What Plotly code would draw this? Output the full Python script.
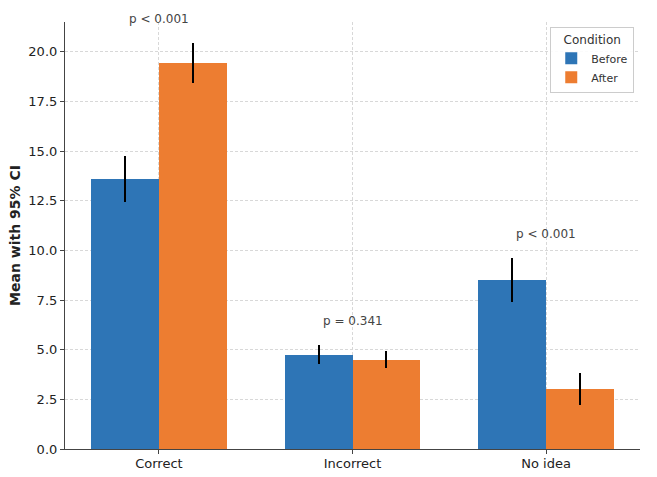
import plotly.graph_objects as go

categories = ["Correct", "Incorrect", "No idea"]
before_mean = [13.6, 4.75, 8.52]
before_ci = [1.17, 0.48, 1.1]
after_mean = [19.45, 4.5, 3.03]
after_ci = [1.0, 0.41, 0.8]
p_labels = ["p < 0.001", "p = 0.341", "p < 0.001"]

BLUE = "#2E75B6"
ORANGE = "#ED7D31"
FONT = "DejaVu Sans"
Y_MAX = 21.5

x_idx = list(range(len(categories)))
w = 0.35

fig = go.Figure()
fig.add_trace(go.Bar(
    x=[i - w / 2 for i in x_idx], y=before_mean, width=w, name="Before",
    marker=dict(color=BLUE, line=dict(width=0)),
    error_y=dict(type="data", array=before_ci, color="black", thickness=2, width=0),
))
fig.add_trace(go.Bar(
    x=[i + w / 2 for i in x_idx], y=after_mean, width=w, name="After",
    marker=dict(color=ORANGE, line=dict(width=0)),
    error_y=dict(type="data", array=after_ci, color="black", thickness=2, width=0),
))

for i, lab in enumerate(p_labels):
    top = max(before_mean[i] + before_ci[i], after_mean[i] + after_ci[i])
    fig.add_annotation(x=i, xref="x", y=(top + 1.2) / Y_MAX, yref="paper", text=lab,
                       showarrow=False, yanchor="middle",
                       font=dict(family=FONT, size=12, color="#444"))

fig.update_layout(
    width=657, height=477,
    margin=dict(l=65, r=17, t=22, b=28),
    plot_bgcolor="white", paper_bgcolor="white",
    barmode="overlay", bargap=0,
    font=dict(family=FONT, size=13, color="#222"),
    showlegend=True,
    legend=dict(
        title=dict(text="Condition", side="top center", font=dict(size=12, color="#333")),
        x=0.99, y=0.988, xanchor="right", yanchor="top",
        bgcolor="rgba(255,255,255,0.9)", bordercolor="#ccc", borderwidth=1,
        font=dict(size=11, color="#333"), tracegroupgap=0,
    ),
)
fig.update_xaxes(
    range=[-0.485, 2.485], tickmode="array", tickvals=x_idx, ticktext=categories,
    showline=True, linecolor="#444", linewidth=1.2, ticks="outside", ticklen=4,
    tickcolor="#444", showgrid=True, gridcolor="#d8d8d8", griddash="3px,2px", gridwidth=0.8,
    zeroline=False, tickfont=dict(size=13, color="#222"), automargin=False,
    ticklabelstandoff=-2,
)
fig.update_yaxes(
    range=[0, Y_MAX], tickmode="array", tickvals=[0, 2.5, 5, 7.5, 10, 12.5, 15, 17.5, 20],
    ticktext=["0.0", "2.5", "5.0", "7.5", "10.0", "12.5", "15.0", "17.5", "20.0"],
    showline=True, linecolor="#444", linewidth=1.2, ticks="outside", ticklen=4,
    tickcolor="#444", showgrid=True, gridcolor="#d8d8d8", griddash="3px,2px", gridwidth=0.8,
    zeroline=False, tickfont=dict(size=13, color="#222"), automargin=False,
    title=dict(text="<b>Mean with 95% CI</b>", font=dict(size=14, color="#222"), standoff=4),
)

fig.write_html("out.html")
